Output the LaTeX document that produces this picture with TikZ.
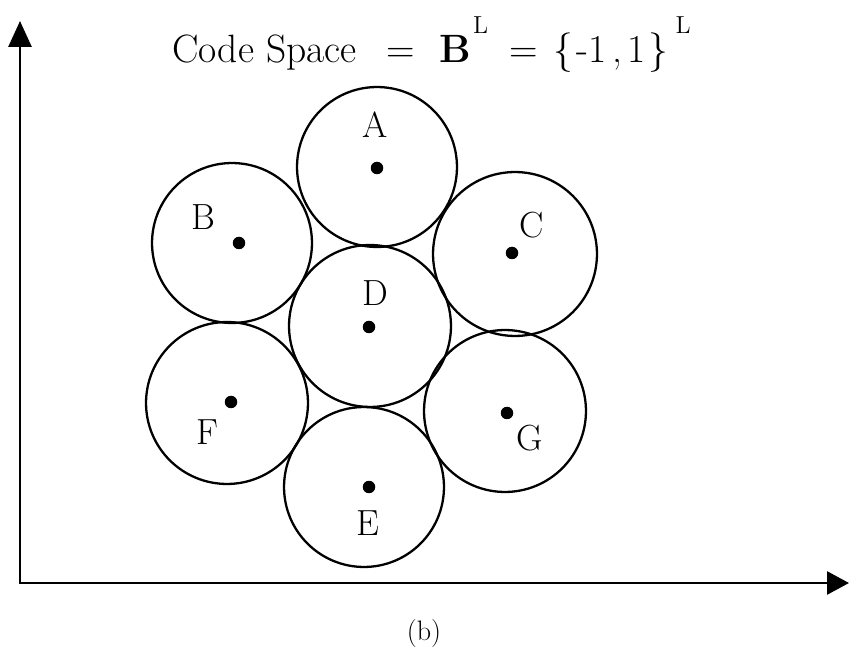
\documentclass[tikz,border=0pt]{standalone}
\usepackage{tikz}
\usetikzlibrary{arrows.meta,positioning}

\tikzset{
  codeword/.style={draw, circle, line width=1.3pt, inner sep=0pt},
  centre/.style={fill, circle, inner sep=0pt, minimum size=0.25cm},
  axis/.style={line width=1.6pt},
}
\newcommand{\supL}{\raisebox{17pt}{\fontsize{14}{14}\selectfont L}}

\begin{document}
\begin{tikzpicture}[x=0.02cm, y=-0.02cm, every node/.style={font=\fontsize{20.7}{24}\selectfont}]
    \useasboundingbox (0,0) rectangle (849,648);

    % axes
    \coordinate (origin) at (20,583);
    \coordinate (ytip) at (20,21);
    \coordinate (xtip) at (849,583);
    \draw[axis, {Triangle[length=0.52cm,width=0.46cm]}-{Triangle[length=0.44cm,width=0.46cm]}]
      (ytip) -- (origin) -- (xtip);

    % code words: circle, centre dot, label
    \foreach \n/\cx/\cy/\r/\dx/\dy/\lx/\ly in {
        A/377/167/80/377/168/375/125,
        B/232/243/80/239/243/203/217,
        C/515/254/82/512/253/532/225,
        D/370/326/81/369/327/375/293,
        E/364/487/80/369/487/368/523,
        F/227/403/81/231/402/207/432,
        G/505/411/81/507/413/530/438} {
      \node[codeword, minimum size={\r*0.04cm}] (circ\n) at (\cx,\cy) {};
      \node[centre] (dot\n) at (\dx,\dy) {};
      \node (lab\n) at (\lx,\ly) {\n};
    }

    \node[anchor=base west, inner sep=0pt, font=\fontsize{22.5}{26}\selectfont] (title) at (172,63)
      {Code Space\hspace{17pt}=\hspace{14pt}\textbf{B}\hspace{1pt}\supL\hspace{12pt}=\hspace{9pt}\{\hspace{2pt}-1\hspace{3pt},\hspace{3pt}1\hspace{2pt}\}\hspace{4pt}\supL};

    \node[font=\fontsize{16}{19}\selectfont] (caption) at (424,633) {(b)};
\end{tikzpicture}
\end{document}
